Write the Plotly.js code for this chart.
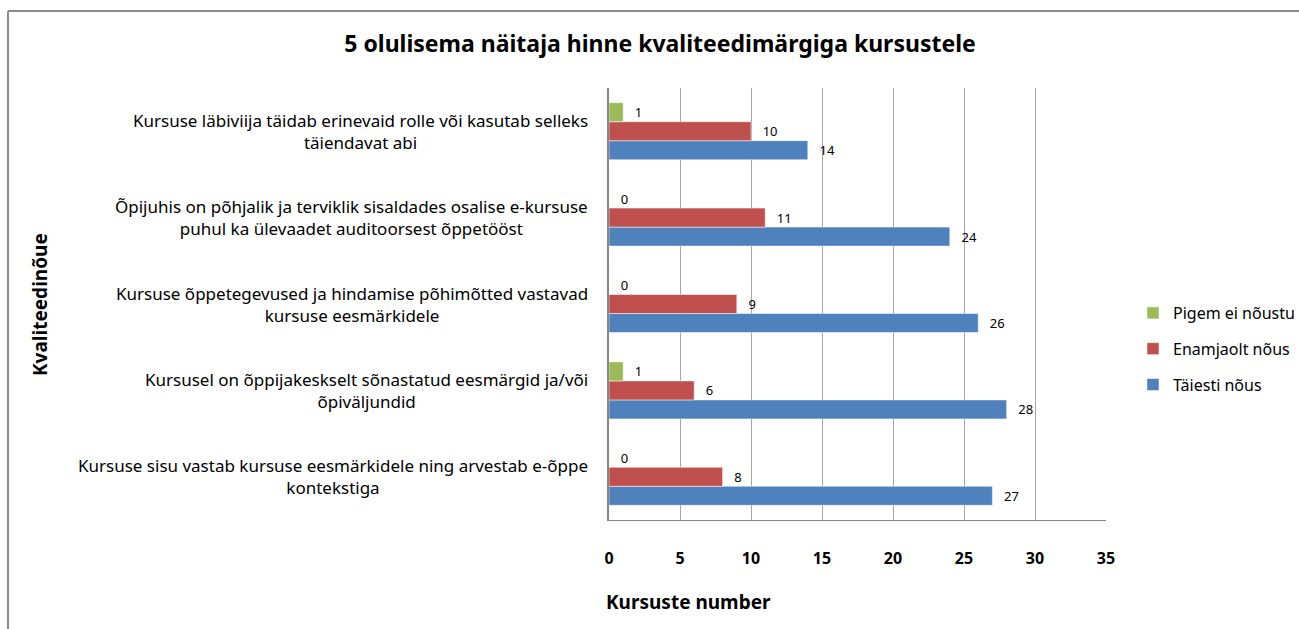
<!DOCTYPE html>
<html>
<head>
<meta charset="utf-8">
<script src="https://cdn.plot.ly/plotly-3.0.1.min.js"></script>
<style>html,body{margin:0;padding:0;background:#fff;}#chart{width:1299px;height:629px;}</style>
</head>
<body>
<div id="chart"></div>
<script>
// Categories from bottom to top
var categories = [
  "Kursuse sisu vastab kursuse eesmärkidele ning arvestab e-õppe<br>kontekstiga",
  "Kursusel on õppijakeskselt sõnastatud eesmärgid ja/või<br>õpiväljundid",
  "Kursuse õppetegevused ja hindamise põhimõtted vastavad<br>kursuse eesmärkidele",
  "Õpijuhis on põhjalik ja terviklik sisaldades osalise e-kursuse<br>puhul ka ülevaadet auditoorsest õppetööst",
  "Kursuse läbiviija täidab erinevaid rolle või kasutab selleks<br>täiendavat abi"
];
var taiestiNous = [27, 28, 26, 24, 14];
var enamjaoltNous = [8, 6, 9, 11, 10];
var pigemEiNoustu = [0, 1, 0, 0, 1];
var seriesNames = ["Täiesti nõus", "Enamjaolt nõus", "Pigem ei nõustu"];
var xTicks = [0, 5, 10, 15, 20, 25, 30, 35];

var font = "Noto Sans, Open Sans, sans-serif";
function trace(vals, name, color, rank) {
  return {
    type: "bar", orientation: "h", y: categories, x: vals, name: name, legendgroup: name,
    legendrank: rank,
    marker: {color: color, line: {color: "rgba(255,255,255,0.5)", width: 1}},
    text: vals.map(String), texttemplate: "\u2002\u2009%{x}", textposition: "outside", cliponaxis: false,
    textfont: {family: font, size: 13, color: "#000"}, hoverinfo: "x+name"
  };
}
var data = [
  trace(taiestiNous, seriesNames[0], "#4F81BD", 3),
  trace(enamjaoltNous, seriesNames[1], "#C0504D", 2),
  trace(pigemEiNoustu, seriesNames[2], "#9BBB59", 1)
];

var annotations = categories.map(function(c) {
  return {xref: "paper", yref: "y", x: -0.038, y: c, text: c, showarrow: false,
    xanchor: "right", yanchor: "middle", align: "center",
    font: {family: font, size: 17, color: "#000"}};
});
annotations.push({xref: "paper", yref: "paper", x: (604 - 609) / 497, y: (520 - 602) / 432,
  text: "<b>Kursuste number</b>", showarrow: false, xanchor: "left", yanchor: "middle",
  font: {family: font, size: 19, color: "#000"}});
annotations.push({xref: "paper", yref: "paper", x: (40 - 609) / 497, y: (520 - 305) / 432,
  text: "<b>Kvaliteedinõue</b>", textangle: -90, showarrow: false,
  xanchor: "center", yanchor: "middle", font: {family: font, size: 19, color: "#000"}});

var layout = {
  width: 1299, height: 629,
  margin: {l: 609, r: 193, t: 88, b: 109, autoexpand: false},
  paper_bgcolor: "#fff", plot_bgcolor: "#fff",
  barmode: "group", bargap: 0.34, bargroupgap: 0,
  title: {text: "<b>5 olulisema näitaja hinne kvaliteedimärgiga kursustele</b>",
    x: 660 / 1299, xanchor: "center", xref: "container", y: 1 - 44 / 629, yanchor: "middle", yref: "container",
    font: {family: font, size: 23, color: "#000"}},
  xaxis: {range: [0, 35], tickvals: xTicks, ticktext: xTicks.map(String),
    showgrid: true, gridcolor: "#a6a6a6", gridwidth: 1,
    showline: true, linecolor: "#868686", linewidth: 1, zeroline: false,
    ticks: "", ticklabelstandoff: 24,
    tickfont: {family: font, size: 16, color: "#000", weight: "bold"}, fixedrange: true},
  yaxis: {type: "category", showticklabels: false, showgrid: false,
    showline: true, linecolor: "#868686", linewidth: 2, zeroline: false, ticks: "", fixedrange: true},
  legend: {x: (1133 - 609) / 497, y: (520 - 296) / 432, xanchor: "left", yanchor: "top",
    traceorder: "grouped", font: {family: font, size: 16, color: "#000"},
    itemwidth: 30, tracegroupgap: 12, bgcolor: "rgba(0,0,0,0)"},
  annotations: annotations,
  shapes: [
    {type: "line", xref: "paper", yref: "paper", x0: (8 - 609) / 497, x1: (1305 - 609) / 497,
      y0: (520 - 11) / 432, y1: (520 - 11) / 432, line: {color: "#8c8c8c", width: 2}},
    {type: "line", xref: "paper", yref: "paper", x0: (8 - 609) / 497, x1: (8 - 609) / 497,
      y0: (520 - 11) / 432, y1: (520 - 640) / 432, line: {color: "#8c8c8c", width: 2}}
  ],
  showlegend: true
};
Plotly.newPlot("chart", data, layout, {displayModeBar: false});
</script>
</body>
</html>
